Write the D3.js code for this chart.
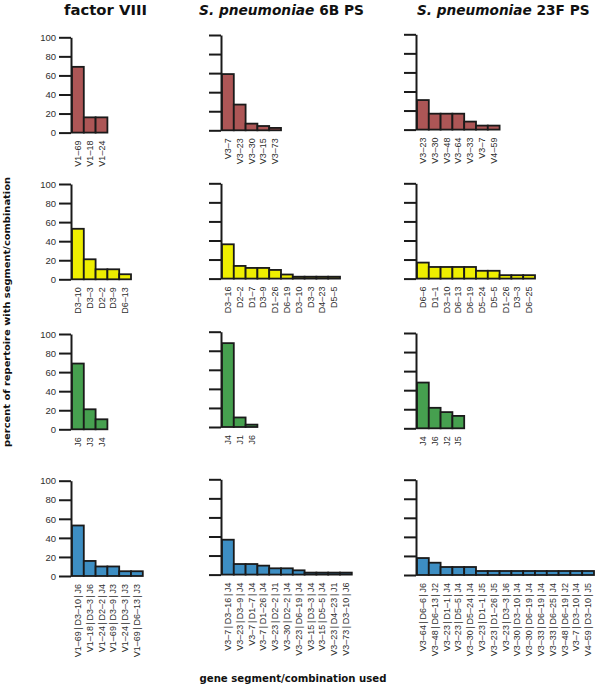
<!DOCTYPE html>
<html><head><meta charset="utf-8">
<script src="https://cdn.jsdelivr.net/npm/d3@7/dist/d3.min.js"></script>
<style>
body{margin:0;background:#fff;}
svg{display:block;}
</style></head><body>
<svg id="chart" width="600" height="693"></svg>
<script>
// ---- data ----
const columnTitles = ["factor VIII", "S. pneumoniae 6B PS", "S. pneumoniae 23F PS"];
const yTicks = [0, 20, 40, 60, 80, 100];

const f8V_cats = ["V1–69","V1–18","V1–24"];
const f8V_vals = [69, 16, 16];
const f8D_cats = ["D3–10","D3–3","D2–2","D3–9","D6–13"];
const f8D_vals = [53, 21, 10.5, 10.5, 5.3];
const f8J_cats = ["J6","J3","J4"];
const f8J_vals = [69, 21, 10.5];
const f8VDJ_cats = ["V1–69|D3–10|J6","V1–18|D3–3|J6","V1–24|D2–2|J4","V1–69|D3–9|J3","V1–24|D3–3|J3","V1–69|D6–13|J3"];
const f8VDJ_vals = [53, 15.8, 10, 10, 5, 5];

const p6bV_cats = ["V3–7","V3–23","V3–30","V3–15","V3–73"];
const p6bV_vals = [59, 27, 7, 4.5, 2.5];
const p6bD_cats = ["D3–16","D2–2","D1–7","D3–9","D1–26","D6–19","D3–10","D3–3","D4–23","D5–5"];
const p6bD_vals = [36, 13.3, 11.2, 11.2, 9.1, 4.3, 2, 2, 2, 2];
const p6bJ_cats = ["J4","J1","J6"];
const p6bJ_vals = [88, 10, 2.5];
const p6bVDJ_cats = ["V3–7|D3–16|J4","V3–23|D3–9|J4","V3–7|D1–7|J4","V3–7|D1–26|J4","V3–23|D2–2|J1","V3–30|D2–2|J4","V3–23|D6–19|J4","V3–15|D3–3|J4","V3–15|D5–5|J4","V3–23|D4–23|J1","V3–73|D3–10|J6"];
const p6bVDJ_vals = [36.6, 11.1, 11.1, 9.4, 6.6, 6.6, 4.5, 2.1, 2.1, 2.1, 2.1];

const p23V_cats = ["V3–23","V3–30","V3–48","V3–64","V3–33","V3–7","V4–59"];
const p23V_vals = [31, 16.7, 16.7, 16.7, 8.4, 4.2, 4.2];
const p23D_cats = ["D6–6","D1–1","D3–10","D6–13","D6–19","D5–24","D5–5","D1–26","D3–3","D6–25"];
const p23D_vals = [16.8, 12.2, 12.2, 12.2, 12.2, 8.2, 8.2, 3.6, 3.6, 3.6];
const p23J_cats = ["J4","J6","J2","J5"];
const p23J_vals = [48, 21.5, 17, 13];
const p23VDJ_cats = ["V3–64|D6–6|J6","V3–48|D6–13|J2","V3–23|D1–1|J4","V3–23|D5–5|J4","V3–30|D5–24|J4","V3–23|D1–1|J5","V3–23|D1–26|J5","V3–23|D3–3|J6","V3–30|D3–10|J4","V3–30|D6–19|J4","V3–33|D6–19|J4","V3–33|D6–25|J4","V3–48|D6–19|J2","V3–7|D3–10|J4","V4–59|D3–10|J5"];
const p23VDJ_vals = [17.8, 12.9, 8.4, 8.4, 8.4, 4.2, 4.2, 4.2, 4.2, 4.2, 4.2, 4.2, 4.2, 4.2, 4.2];

const rowColors = ["#ad5656", "#eeee00", "#46a04f", "#3d8ec3"];

const panels = [
  [ [f8V_cats,f8V_vals], [p6bV_cats,p6bV_vals], [p23V_cats,p23V_vals] ],
  [ [f8D_cats,f8D_vals], [p6bD_cats,p6bD_vals], [p23D_cats,p23D_vals] ],
  [ [f8J_cats,f8J_vals], [p6bJ_cats,p6bJ_vals], [p23J_cats,p23J_vals] ],
  [ [f8VDJ_cats,f8VDJ_vals], [p6bVDJ_cats,p6bVDJ_vals], [p23VDJ_cats,p23VDJ_vals] ]
];

// ---- layout ----
const axisX = [71, 221, 416];
const panelTop = [[37.3, 35, 34.3],[184, 183.3, 183.3],[334, 331.7, 333],[480.7, 479.3, 479.7]];
const panelH = 95.3;
const barW = 11.8;

const svg = d3.select("#chart");
const textCol = "#2e2e2e";

panels.forEach((row, r) => {
  row.forEach(([cats, vals], c) => {
    const top = panelTop[r][c];
    const y = d3.scaleLinear().domain([0, 100]).range([top + panelH, top]);
    const x = d3.scaleBand().domain(cats).range([axisX[c] + 1, axisX[c] + 1 + barW * cats.length]).padding(0);
    const g = svg.append("g");

    // y axis
    const ax = d3.axisLeft(y).tickValues(yTicks).tickSize(12).tickSizeOuter(0)
      .tickFormat(c === 0 ? d3.format("d") : () => "");
    const ag = g.append("g").attr("transform", `translate(${axisX[c]},0)`).call(ax);
    ag.select(".domain").attr("stroke", "#1a1a1a").attr("stroke-width", 2);
    ag.selectAll(".tick line").attr("stroke", "#1a1a1a").attr("stroke-width", 2);
    ag.selectAll(".tick text").attr("fill", textCol).attr("font-family", "Liberation Sans, Arial, sans-serif")
      .attr("font-size", 9.5).attr("x", -15).attr("dy", "0.34em");

    // bars
    g.selectAll("rect.bar").data(cats.map((k, i) => ({k, v: vals[i]}))).join("rect")
      .attr("class", "bar")
      .attr("x", d => x(d.k))
      .attr("width", x.bandwidth())
      .attr("y", d => y(d.v))
      .attr("height", d => y(0) - y(d.v))
      .attr("fill", rowColors[r])
      .attr("stroke", "#1a1a1a")
      .attr("stroke-width", 1.8);

    // x labels
    const labels = g.selectAll("text.xl").data(cats).join("text")
      .attr("class", "xl")
      .attr("transform", d => `translate(${x(d) + x.bandwidth() / 2},${y(0) + 8}) rotate(-90)`)
      .attr("text-anchor", "end")
      .attr("dy", "0.35em")
      .attr("font-family", "Liberation Sans, Arial, sans-serif")
      .attr("font-size", 9)
      .attr("fill", textCol);
    labels.each(function(d) {
      const t = d3.select(this);
      d.split("|").forEach((part, i) => {
        if (i > 0) t.append("tspan").attr("dx", 1.6).text("|");
        t.append("tspan").attr("dx", i > 0 ? 1.6 : 0).text(part);
      });
    });
  });
});

// column titles
const titleFont = "DejaVu Sans, Verdana, sans-serif";
svg.append("text").attr("x", 64).attr("y", 15).attr("font-family", titleFont)
  .attr("font-weight", "bold").attr("font-size", 14).attr("fill", "#111")
  .attr("textLength", 83).attr("lengthAdjust", "spacingAndGlyphs").text(columnTitles[0]);
[[199, 165, "6B PS"], [417, 172.5, "23F PS"]].forEach(([tx, tl, rest]) => {
  const t = svg.append("text").attr("x", tx).attr("y", 15).attr("font-family", titleFont)
    .attr("font-weight", "bold").attr("font-size", 14).attr("fill", "#111")
    .attr("textLength", tl).attr("lengthAdjust", "spacingAndGlyphs");
  t.append("tspan").attr("font-style", "italic").text("S. pneumoniae");
  t.append("tspan").text(" " + rest);
});

// axis titles
svg.append("text")
  .attr("transform", "translate(7,312) rotate(-90)")
  .attr("text-anchor", "middle").attr("dy", "0.35em")
  .attr("font-family", titleFont).attr("font-weight", "bold").attr("font-size", 9.5)
  .attr("fill", "#111").attr("textLength", 270).attr("lengthAdjust", "spacingAndGlyphs")
  .text("percent of repertoire with segment/combination");

svg.append("text")
  .attr("x", 293).attr("y", 682)
  .attr("text-anchor", "middle")
  .attr("font-family", titleFont).attr("font-weight", "bold").attr("font-size", 10)
  .attr("fill", "#111").attr("textLength", 187).attr("lengthAdjust", "spacingAndGlyphs")
  .text("gene segment/combination used");
</script>
</body></html>
